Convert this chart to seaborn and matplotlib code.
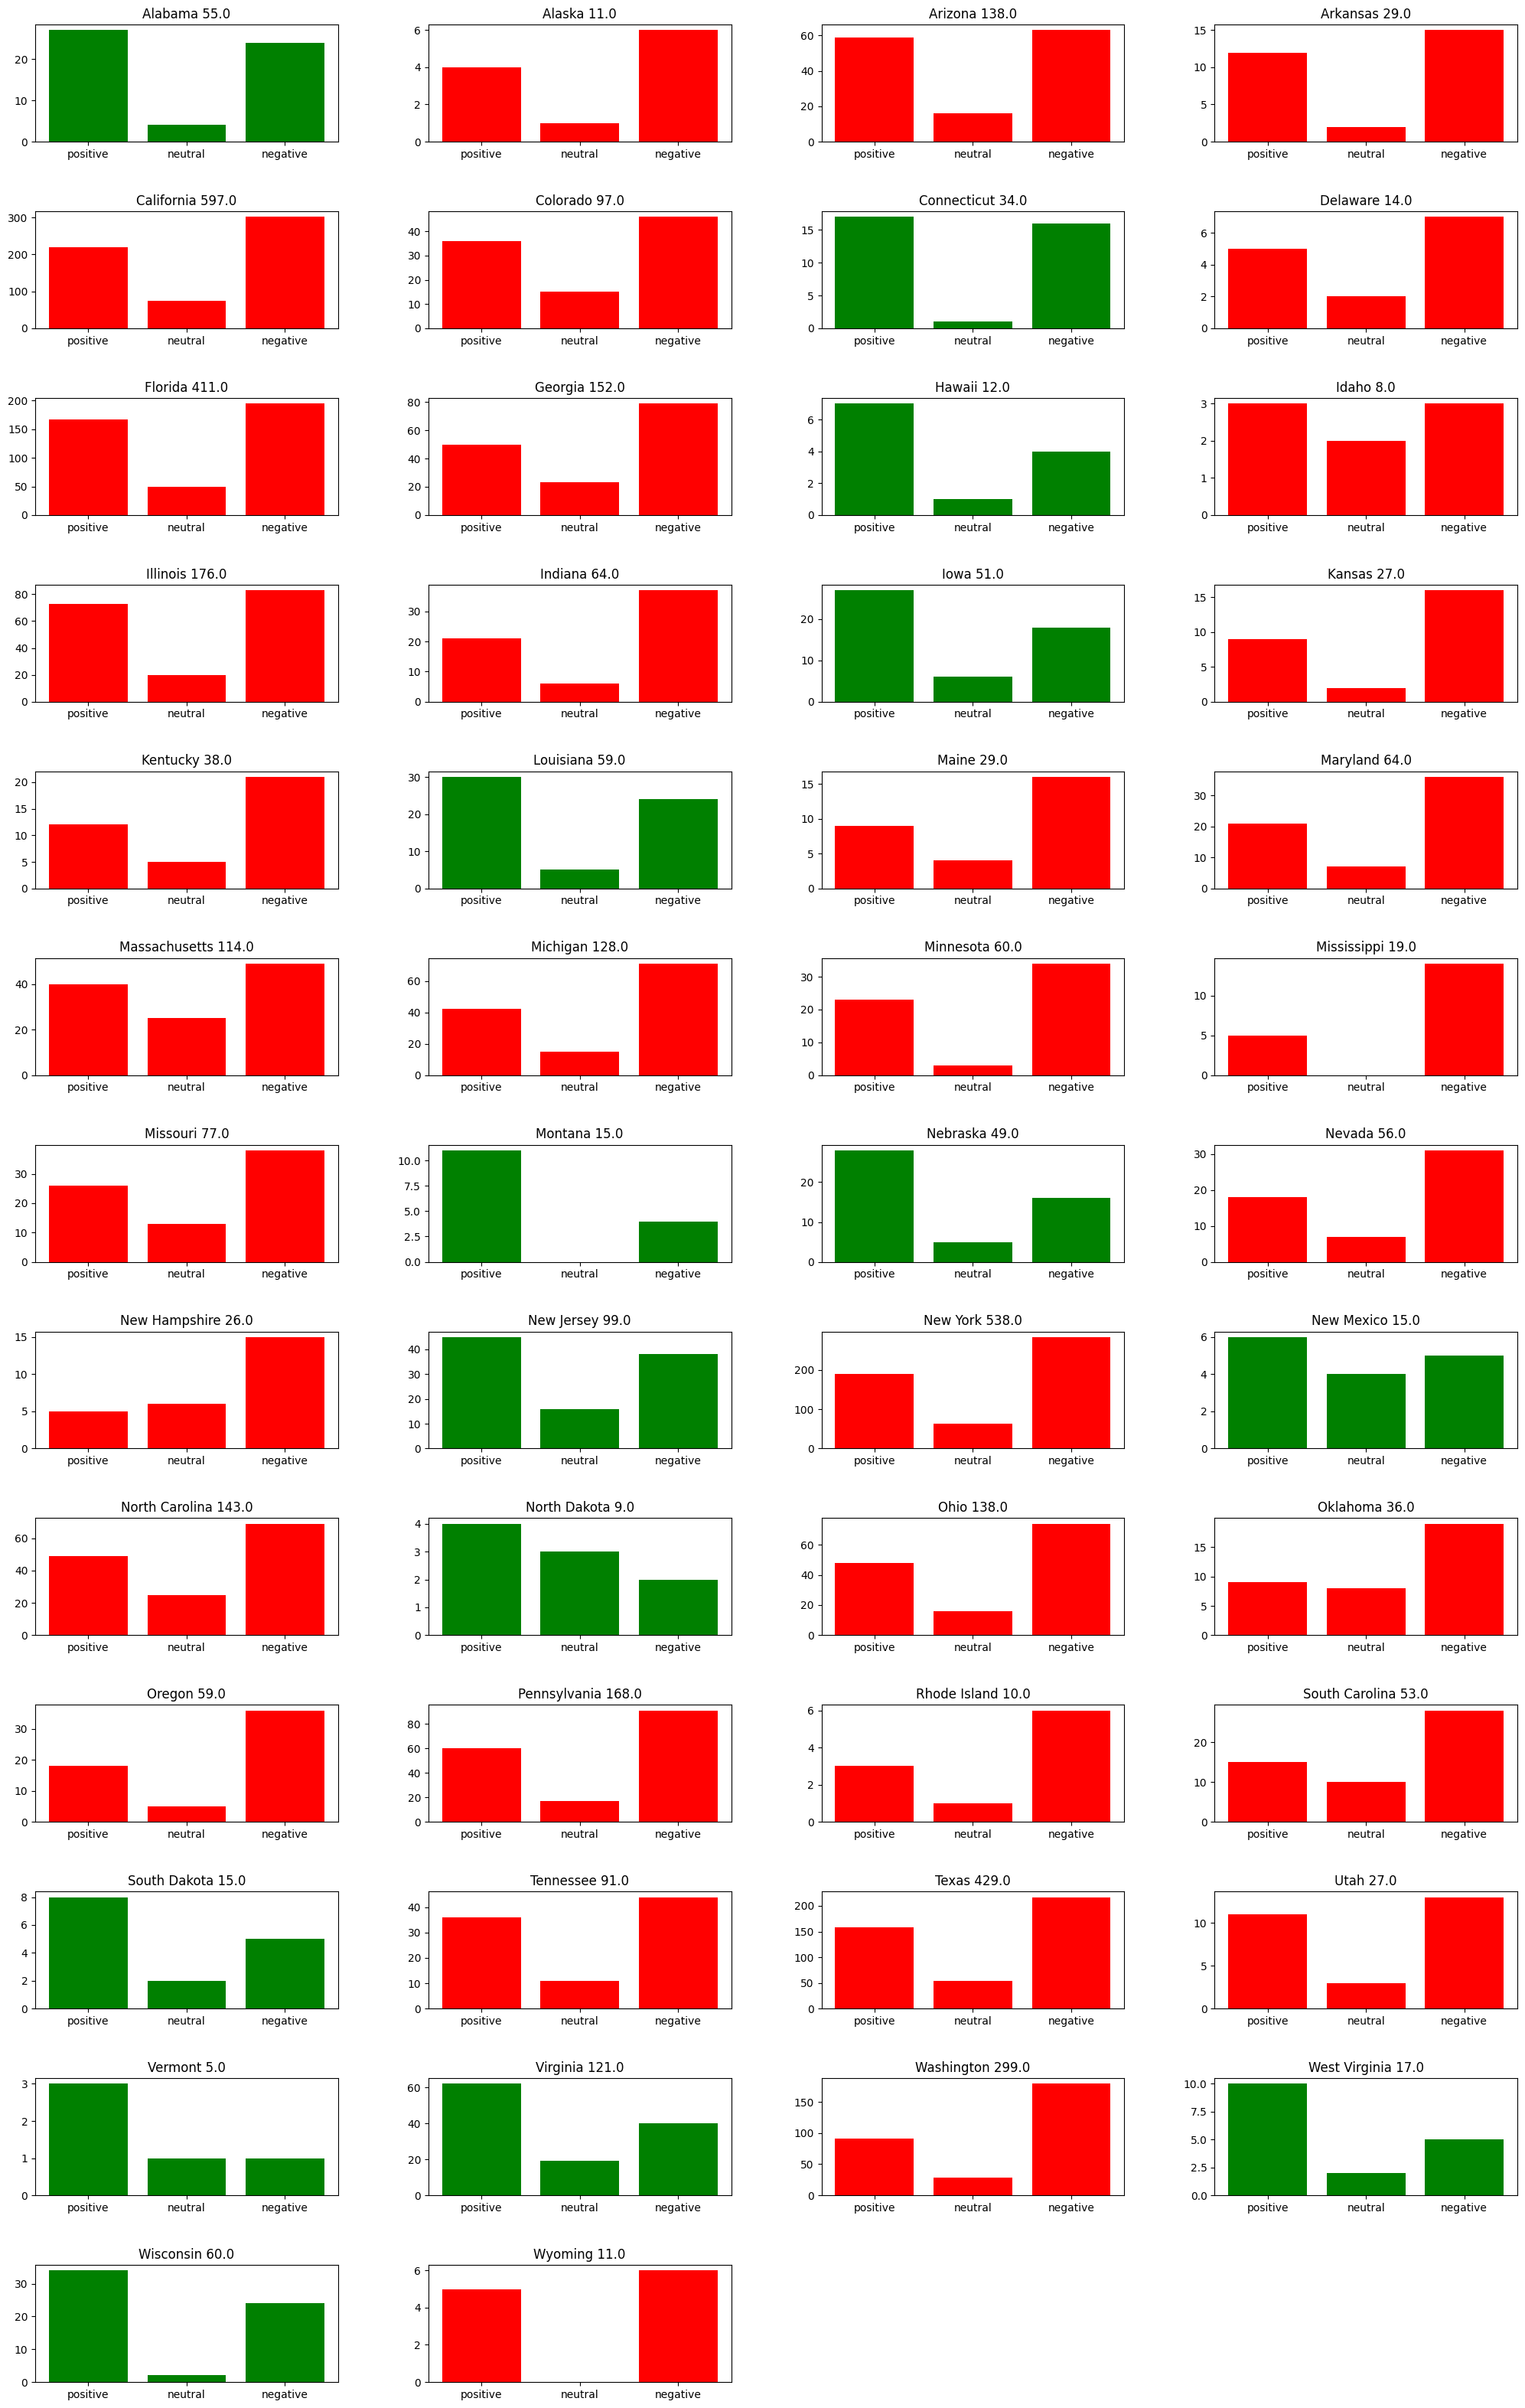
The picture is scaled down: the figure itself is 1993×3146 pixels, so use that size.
import numpy as np
import pandas as pd
import matplotlib
matplotlib.use("Agg")
import matplotlib.pyplot as plt
import seaborn as sns

# --- Data ---
STATES = [
    "Alabama", "Alaska", "Arizona", "Arkansas", "California", "Colorado",
    "Connecticut", "Delaware", "Florida", "Georgia", "Hawaii", "Idaho",
    "Illinois", "Indiana", "Iowa", "Kansas", "Kentucky", "Louisiana",
    "Maine", "Maryland", "Massachusetts", "Michigan", "Minnesota",
    "Mississippi", "Missouri", "Montana", "Nebraska", "Nevada",
    "New Hampshire", "New Jersey", "New York", "New Mexico",
    "North Carolina", "North Dakota", "Ohio", "Oklahoma", "Oregon",
    "Pennsylvania", "Rhode Island", "South Carolina", "South Dakota",
    "Tennessee", "Texas", "Utah", "Vermont", "Virginia", "Washington",
    "West Virginia", "Wisconsin", "Wyoming",
]
POSITIVE = [27, 4, 59, 12, 220, 36, 17, 5, 167, 50, 7, 3, 73, 21, 27, 9, 12, 30,
            9, 21, 40, 42, 23, 5, 26, 11, 28, 18, 5, 45, 190, 6, 49, 4, 48, 9,
            18, 60, 3, 15, 8, 36, 158, 11, 3, 62, 91, 10, 34, 5]
NEUTRAL = [4, 1, 16, 2, 75, 15, 1, 2, 49, 23, 1, 2, 20, 6, 6, 2, 5, 5,
           4, 7, 25, 15, 3, 0, 13, 0, 5, 7, 6, 16, 64, 4, 25, 3, 16, 8,
           5, 17, 1, 10, 2, 11, 54, 3, 1, 19, 29, 2, 2, 0]
NEGATIVE = [24, 6, 63, 15, 302, 46, 16, 7, 195, 79, 4, 3, 83, 37, 18, 16, 21, 24,
            16, 36, 49, 71, 34, 14, 38, 4, 16, 31, 15, 38, 284, 5, 69, 2, 74, 19,
            36, 91, 6, 28, 5, 44, 217, 13, 1, 40, 179, 5, 24, 6]
SENTIMENTS = ["positive", "neutral", "negative"]

N_ROWS, N_COLS = 13, 4


def main():
    fig, axes = plt.subplots(N_ROWS, N_COLS, figsize=(19.93, 31.46), dpi=100)
    fig.subplots_adjust(left=0.0231, right=0.995, top=0.9898, bottom=0.0108,
                        wspace=0.298, hspace=0.595)
    axes = axes.flatten()

    for i, state in enumerate(STATES):
        ax = axes[i]
        df = pd.DataFrame({"sentiment": SENTIMENTS,
                           "count": [POSITIVE[i], NEUTRAL[i], NEGATIVE[i]]})
        # green when positive outweighs negative
        color = "green" if POSITIVE[i] > NEGATIVE[i] else "red"
        sns.barplot(data=df, x="sentiment", y="count", color=color,
                    saturation=1, errorbar=None, ax=ax)
        ax.set_xlim(-0.54, 2.54)
        ax.set_xlabel("")
        ax.set_ylabel("")
        total = float(df["count"].sum())
        ax.set_title(f"{state} {total}", fontsize=12)

    for ax in axes[len(STATES):]:
        ax.axis("off")

    fig.savefig("out.png", dpi=100)
    plt.close(fig)


if __name__ == "__main__":
    main()
